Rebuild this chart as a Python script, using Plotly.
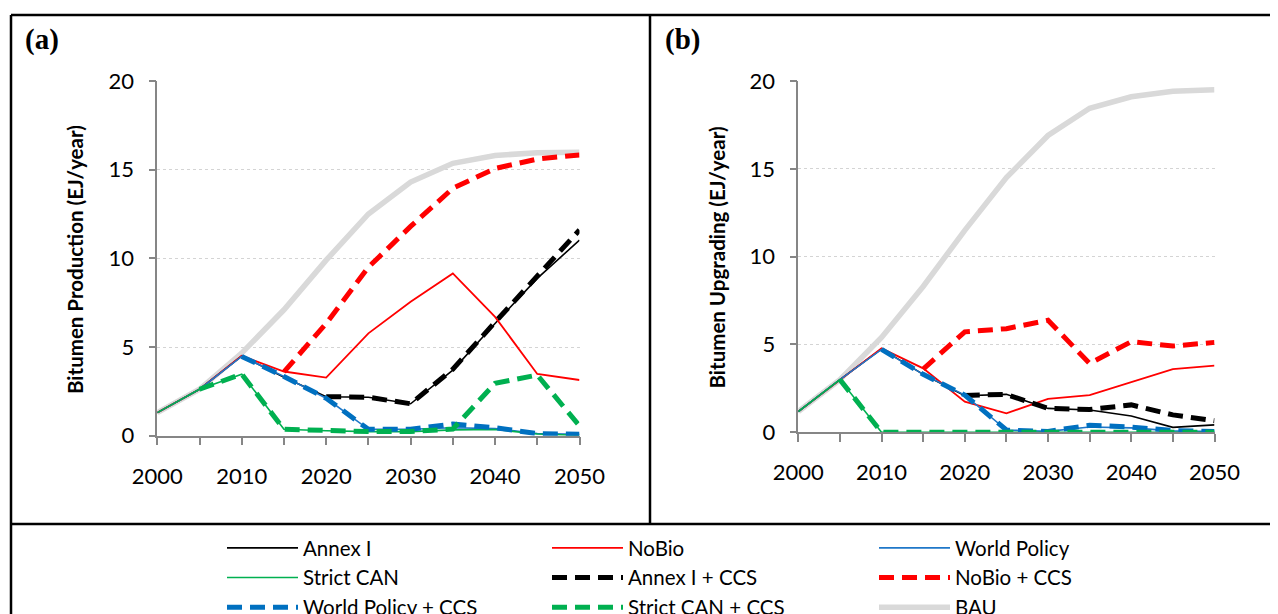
import plotly.graph_objects as go

# ---------------- data ----------------
YEARS = [2000, 2005, 2010, 2015, 2020, 2025, 2030, 2035, 2040, 2045, 2050]
XTICK_TEXT = ["2000", "", "2010", "", "2020", "", "2030", "", "2040", "", "2050"]
YTICK_VALS = [0, 5, 10, 15, 20]

SERIES_NAMES = ["Annex I", "NoBio", "World Policy", "Strict CAN",
                "Annex I + CCS", "NoBio + CCS", "World Policy + CCS",
                "Strict CAN + CCS", "BAU"]

# Panel (a): Bitumen Production (EJ/year)
a_annex = [1.3, 2.62, 4.5, 3.3, 2.2, 2.17, 1.8, 3.7, 6.33, 8.87, 11.03]
a_nobio = [1.3, 2.62, 4.5, 3.62, 3.28, 5.77, 7.55, 9.15, 6.7, 3.48, 3.14]
a_world = [1.3, 2.62, 4.47, 3.34, 2.11, 0.36, 0.36, 0.45, 0.4, 0.12, 0.08]
a_strict = [1.3, 2.62, 3.47, 0.36, 0.28, 0.23, 0.23, 0.33, 0.35, 0.1, 0.02]
a_annex_ccs = [None, None, None, None, 2.2, 2.17, 1.8, 3.75, 6.4, 9.0, 11.6]
a_nobio_ccs = [None, None, None, 3.6, 6.33, 9.5, 11.8, 13.95, 15.07, 15.6, 15.83]
a_world_ccs = [None, None, 4.47, 3.34, 2.11, 0.36, 0.36, 0.66, 0.45, 0.12, 0.08]
a_strict_ccs = [None, 2.62, 3.47, 0.36, 0.28, 0.23, 0.23, 0.38, 2.95, 3.42, 0.55]
a_bau = [1.3, 2.62, 4.66, 7.1, 9.9, 12.5, 14.3, 15.36, 15.8, 15.96, 15.98]

# Panel (b): Bitumen Upgrading (EJ/year)
b_annex = [1.18, 3.0, 4.75, 3.3, 2.08, 2.16, 1.36, 1.27, 0.93, 0.28, 0.42]
b_nobio = [1.18, 3.0, 4.78, 3.64, 1.74, 1.08, 1.9, 2.12, 2.88, 3.6, 3.8]
b_world = [1.18, 3.0, 4.72, 3.3, 2.12, 0.13, 0.05, 0.3, 0.25, 0.08, 0.04]
b_strict = [1.18, 3.0, 0.0, 0.0, 0.0, 0.0, 0.0, 0.0, 0.0, 0.0, 0.0]
b_annex_ccs = [None, None, None, None, 2.1, 2.16, 1.36, 1.3, 1.56, 0.99, 0.66]
b_nobio_ccs = [None, None, None, 3.6, 5.72, 5.9, 6.38, 3.92, 5.16, 4.91, 5.12]
b_world_ccs = [None, None, 4.72, 3.3, 2.12, 0.13, 0.05, 0.4, 0.3, 0.1, 0.05]
b_strict_ccs = [None, 3.0, 0.0, 0.0, 0.0, 0.0, 0.0, 0.0, 0.0, 0.0, 0.0]
b_bau = [1.18, 3.0, 5.4, 8.3, 11.5, 14.5, 16.9, 18.45, 19.1, 19.42, 19.5]

PANEL_A = [a_annex, a_nobio, a_world, a_strict, a_annex_ccs, a_nobio_ccs,
           a_world_ccs, a_strict_ccs, a_bau]
PANEL_B = [b_annex, b_nobio, b_world, b_strict, b_annex_ccs, b_nobio_ccs,
           b_world_ccs, b_strict_ccs, b_bau]

Y_TITLE_A = "Bitumen Production (EJ/year)"
Y_TITLE_B = "Bitumen Upgrading (EJ/year)"

# ---------------- styles ----------------
COLORS = ["#000000", "#ff0000", "#1f77c8", "#00b050",
          "#000000", "#ff0000", "#0070c0", "#00b050", "#d9d9d9"]
WIDTHS = [1.6, 1.8, 1.6, 1.6, 5, 5, 5, 5, 5.5]
DASHES = ["solid"] * 4 + ["15px,8px"] * 4 + ["solid"]
LEGEND_OF = ["legend", "legend2", "legend3",
             "legend", "legend2", "legend3",
             "legend", "legend2", "legend3"]
DRAW_ORDER = [8, 0, 1, 2, 3, 4, 5, 6, 7]  # BAU underneath

# the page body has an 8px margin, so the figure is 8px smaller and all
# reference pixel positions are shifted by 8px
OFF = 8
W, H = 1278 - OFF, 614 - OFF
FONT = "Lato"

fig = go.Figure()
for i in DRAW_ORDER:
    for panel, (xa, ya, vals) in enumerate([("x", "y", PANEL_A), ("x2", "y2", PANEL_B)]):
        fig.add_trace(go.Scatter(
            x=YEARS, y=vals[i], xaxis=xa, yaxis=ya,
            mode="lines", name=SERIES_NAMES[i],
            line=dict(color=COLORS[i], width=WIDTHS[i], dash=DASHES[i]),
            legendgroup=SERIES_NAMES[i], legend=LEGEND_OF[i],
            legendrank=i + 1, showlegend=(panel == 0),
            cliponaxis=False, connectgaps=False, hoverinfo="x+y+name",
        ))


def px_x(p):
    return (p - OFF) / W


def px_y(p):
    return 1 - (p - OFF) / H


axis_grey = "#868686"
xcommon = dict(range=[2000, 2050], tickmode="array", tickvals=YEARS, ticktext=XTICK_TEXT,
               ticks="outside", ticklen=8, tickwidth=1.5, tickcolor=axis_grey,
               showline=True, linecolor=axis_grey, linewidth=1.5, showgrid=False,
               zeroline=False, tickfont=dict(family=FONT, size=22, color="black"),
               ticklabelstandoff=12, fixedrange=True)
ycommon = dict(range=[0, 20], tickmode="array", tickvals=YTICK_VALS,
               ticks="outside", ticklen=7, tickwidth=1.5, tickcolor=axis_grey,
               showline=True, linecolor=axis_grey, linewidth=1.5,
               showgrid=True, gridcolor="#d4d4d4", griddash="dot", gridwidth=1,
               zeroline=False, tickfont=dict(family=FONT, size=22, color="black"),
               ticklabelstandoff=10, fixedrange=True)

legend_common = dict(orientation="v", xanchor="left", yanchor="top",
                     xref="container", yref="container",
                     font=dict(family=FONT, size=20.5, color="black"),
                     itemwidth=71, tracegroupgap=0, bgcolor="rgba(0,0,0,0)",
                     borderwidth=0, traceorder="normal", itemclick=False,
                     itemdoubleclick=False)

fig.update_layout(
    width=W, height=H,
    margin=dict(l=0, r=0, t=0, b=0, autoexpand=False),
    paper_bgcolor="white", plot_bgcolor="white",
    xaxis=dict(domain=[px_x(157.3), px_x(579.5)], anchor="y", **xcommon),
    yaxis=dict(domain=[px_y(435.7), px_y(81)], anchor="x", **ycommon),
    xaxis2=dict(domain=[px_x(798.3), px_x(1214.5)], anchor="y2", **xcommon),
    yaxis2=dict(domain=[px_y(432.3), px_y(81)], anchor="x2", **ycommon),
    legend=dict(x=px_x(222), y=px_y(528), **legend_common),
    legend2=dict(x=px_x(547), y=px_y(528), **legend_common),
    legend3=dict(x=px_x(874), y=px_y(528), **legend_common),
    showlegend=True,
    hovermode="closest",
)

# frame lines (panel borders)
frame = dict(color="black", width=2.5)
fig.add_shape(type="line", xref="paper", yref="paper",
              x0=px_x(11), x1=1.01, y0=px_y(15), y1=px_y(15), line=frame)
fig.add_shape(type="line", xref="paper", yref="paper",
              x0=px_x(11), x1=px_x(11), y0=px_y(15), y1=-0.02, line=frame)
fig.add_shape(type="line", xref="paper", yref="paper",
              x0=px_x(650), x1=px_x(650), y0=px_y(15), y1=px_y(524), line=frame)
fig.add_shape(type="line", xref="paper", yref="paper",
              x0=px_x(11), x1=1.01, y0=px_y(524), y1=px_y(524), line=frame)

# panel labels
for txt, xp in [("(a)", 23), ("(b)", 663)]:
    fig.add_annotation(text="<b>%s</b>" % txt, xref="paper", yref="paper",
                       x=px_x(xp), y=px_y(39), xanchor="left", yanchor="middle",
                       showarrow=False,
                       font=dict(family="Liberation Serif", size=29, color="black"))

# y-axis titles
for txt, xp, yp in [(Y_TITLE_A, 74.5, 259.5), (Y_TITLE_B, 716, 257.5)]:
    fig.add_annotation(text="<b>%s</b>" % txt, xref="paper", yref="paper",
                       x=px_x(xp), y=px_y(yp), xanchor="center", yanchor="middle",
                       textangle=-90, showarrow=False,
                       font=dict(family=FONT, size=20.5, color="black"))

fig.write_html("out.html", include_plotlyjs=True)
